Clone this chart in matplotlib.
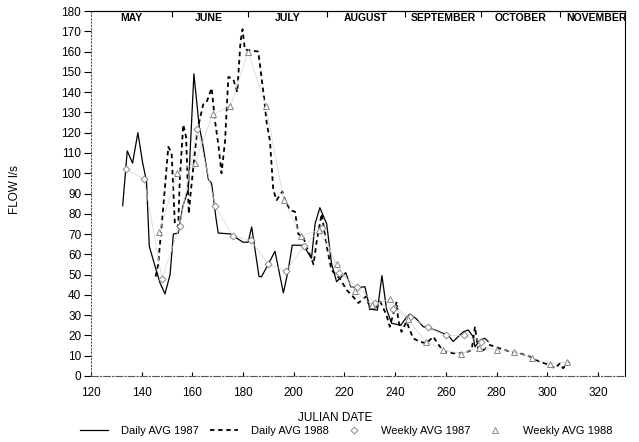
import matplotlib.pyplot as plt
from matplotlib.lines import Line2D

# --- Daily averages 1987 (julian day, flow l/s) ---
days87 = [132.5, 134.3, 136.4, 138.5, 140.4, 141.9, 143.0, 144.6, 147.2, 149.2,
          151.2, 152.5, 154.4, 156.3, 158.4, 160.6, 162.7, 164.0, 166.3, 167.6,
          169.3, 170.2, 175.5, 176.8, 180.0, 182.0, 183.4, 186.3, 187.3, 190.3,
          192.6, 195.9, 197.8, 199.4, 203.8, 207.0, 208.4, 210.3, 213.0, 214.9,
          216.9, 220.5, 222.5, 224.8, 228.1, 230.0, 233.0, 234.8, 236.6, 238.6,
          242.2, 244.5, 245.8, 248.2, 251.1, 253.7, 255.7, 259.0, 261.0, 262.9,
          266.9, 268.8, 270.8, 271.5, 273.5, 275.4, 276.7]
flow87 = [84, 111, 105, 120, 105, 96, 64, 57, 46, 40.5,
          50, 70, 70.5, 84, 92, 149, 123, 115, 97, 95,
          78, 70.5, 70, 68.5, 66, 66, 73.5, 49, 49, 56,
          61.5, 41, 52, 64.5, 64.5, 58, 75, 83, 75, 55.5,
          46.5, 51, 44, 43.5, 44, 33, 32.5, 49.5, 33, 26,
          25, 29, 30.5, 28.4, 24.3, 23.5, 22.7, 21, 20, 17,
          21.8, 22.7, 19.4, 14.4, 17.7, 18.6, 17]

# --- Daily averages 1988 ---
days88 = [145.5, 146.5, 148.5, 150.5, 151.8, 153.1, 154.4, 155.0, 156.4, 157.5,
          158.0, 158.6, 159.3, 161.9, 164.3, 165.6, 167.6, 168.9, 170.2, 171.5,
          172.9, 174.2, 176.1, 177.7, 179.0, 179.8, 180.7, 186.0, 188.2, 189.3,
          190.6, 191.9, 193.2, 195.5, 196.8, 198.5, 200.5, 201.8, 203.8, 205.0,
          207.0, 207.8, 209.0, 211.0, 213.0, 214.9, 218.2, 220.9, 223.5, 225.5,
          228.8, 230.0, 232.0, 234.0, 236.6, 237.9, 240.6, 241.2, 242.5, 244.5,
          247.1, 249.8, 252.4, 255.0, 259.0, 262.9, 266.9, 270.2, 271.5, 272.8,
          274.8, 277.4, 281.3, 285.3, 289.2, 293.2, 297.1, 301.1, 303.0, 305.0,
          306.3, 308.3, 309.6]
flow88 = [49, 55, 83, 113, 110, 75, 73.5, 96, 124, 118,
          101, 80, 90, 121, 134, 135, 142, 126, 114.6, 100,
          116, 147.5, 146.5, 140, 165, 171, 161, 160, 138, 125,
          116, 92, 86.7, 91, 86, 81.8, 81, 70, 68.6, 63.7,
          58, 55, 66, 80, 64, 52.2, 48, 42.4, 39, 36,
          39.5, 33, 33, 37, 30, 24.3, 36.6, 27.6, 21.8, 26.8,
          18.6, 16.9, 16.1, 19.4, 12, 11.2, 11.2, 12.8, 24.3, 12.8,
          12.8, 15.3, 13.6, 12, 11.2, 9.5, 7, 5.4, 3.8, 6.2,
          3.8, 7, 4.6]

# --- Weekly averages ---
wk_days87 = [134, 141, 148, 155, 162, 169, 176, 183, 190, 197, 204,
             211, 218, 225, 232, 239, 246, 253, 260, 267, 274]
wk_flow87 = [102, 97, 48, 74, 122, 84, 69, 67, 55, 52, 64,
             73, 51, 44, 36, 33, 29, 24, 20, 20, 17]
wk_days88 = [147, 154, 161, 168, 175, 182, 189, 196, 203, 210, 217, 224,
             231, 238, 245, 252, 259, 266, 273, 280, 287, 294, 301, 308]
wk_flow88 = [71, 100, 105, 129, 133, 160, 133, 87, 69, 72, 55, 42,
             35, 38, 28, 17, 13, 11, 14, 13, 12, 9, 6, 7]

months = ["MAY", "JUNE", "JULY", "AUGUST", "SEPTEMBER", "OCTOBER", "NOVEMBER"]
month_mid = [136, 166.5, 197.5, 228.5, 259, 289.5, 319.5]
month_start = [152, 182, 213, 244, 274, 305]

plt.rcParams['font.family'] = ['Liberation Sans', 'DejaVu Sans']

fig = plt.figure(figsize=(6.39, 4.42), dpi=100)
ax = fig.add_axes([91 / 639, 1 - 376 / 442, (625 - 91) / 639, (376 - 11) / 442])

dash88 = (0, (2.5, 2))
ax.plot(days87, flow87, color='black', lw=0.9)
ax.plot(days88, flow88, color='black', lw=1.3, ls=dash88)
ax.plot(wk_days87, wk_flow87, color='#d4d4d4', lw=0.5, marker='D', ms=3.5,
        mfc='white', mec='#888888', mew=0.7)
ax.plot(wk_days88, wk_flow88, color='#d4d4d4', lw=0.5, marker='^', ms=4.5,
        mfc='white', mec='#888888', mew=0.7)

ax.set_xlim(120, 330.7)
ax.set_ylim(0, 180)
ax.set_xticks(range(120, 321, 20))
ax.set_yticks(range(0, 181, 10))
ax.tick_params(axis='y', direction='out', length=5, width=0.8, labelsize=8.5, pad=2)
ax.tick_params(axis='x', direction='in', length=3, width=0.8, labelsize=8.5, pad=8)

for side in ['top', 'right']:
    ax.spines[side].set_linewidth(0.8)
ax.spines['left'].set_linestyle((0, (1, 2)))
ax.spines['left'].set_color('#555555')
ax.spines['bottom'].set_linestyle((0, (6, 2, 1, 2)))
ax.spines['bottom'].set_color('#555555')

# month names along the top
top = ax.secondary_xaxis('top')
top.set_xticks(month_start)
top.tick_params(direction='in', length=4, width=0.8, labeltop=False)
for name, mid in zip(months, month_mid):
    ax.text(mid, 176.5, name, ha='center', va='center', fontsize=7.5,
            fontweight='bold', family=['Liberation Sans Narrow', 'Liberation Sans'])

fig.text(335 / 639, 1 - 418 / 442, "JULIAN DATE", ha='center', va='center', fontsize=8.5)
fig.text(15 / 639, 1 - 190 / 442, "FLOW l/s", ha='center', va='center',
         rotation=90, fontsize=8.5)

handles = [
    Line2D([], [], color='black', lw=0.9),
    Line2D([], [], color='black', lw=1.3, ls=dash88),
    Line2D([], [], ls='none', marker='D', ms=3.5, mfc='white', mec='#888888', mew=0.7),
    Line2D([], [], ls='none', marker='^', ms=4.5, mfc='white', mec='#888888', mew=0.7),
]
labels = ["Daily AVG 1987", "Daily AVG 1988", "Weekly AVG 1987", "Weekly AVG 1988"]
fig.legend(handles, labels, loc='center', bbox_to_anchor=(346 / 639, 1 - 431 / 442),
           ncol=4, frameon=False, fontsize=8, handlelength=2.5, handletextpad=1.2,
           columnspacing=1.0, borderpad=0, borderaxespad=0)

fig.savefig("out.png", dpi=100)
